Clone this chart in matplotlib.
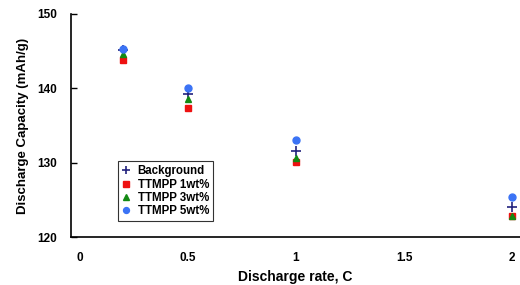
import matplotlib
matplotlib.use("Agg")
import matplotlib.pyplot as plt

plt.rcParams['font.family'] = ['Liberation Sans', 'DejaVu Sans']
plt.rcParams['font.weight'] = 'bold'

# discharge rates (C) and capacities (mAh/g)
rates = [0.2, 0.5, 1, 2]
background = [145.2, 139.2, 131.6, 124.0]
ttmpp_1 = [143.8, 137.4, 130.1, 122.8]
ttmpp_3 = [144.6, 138.6, 130.6, 122.8]
ttmpp_5 = [145.3, 140.1, 133.0, 125.4]

xticks = [0, 0.5, 1, 1.5, 2]
xticklabels = ["0", "0.5", "1", "1.5", "2"]
yticks = [120, 130, 140, 150]

fig = plt.figure(figsize=(5.2, 2.85), dpi=100)
ax = fig.add_axes([0.1365, 0.1684, 0.8635, 0.7825])

ax.plot(rates, background, linestyle='none', marker='+', color='#23237e',
        markersize=7, markeredgewidth=1.2, label='Background')
ax.plot(rates, ttmpp_1, linestyle='none', marker='s', color='#ee1111',
        markersize=4.5, label='TTMPP 1wt%')
ax.plot(rates, ttmpp_3, linestyle='none', marker='^', color='#138a13',
        markersize=5, label='TTMPP 3wt%')
ax.plot(rates, ttmpp_5, linestyle='none', marker='o', color='#3b73f5',
        markersize=5, label='TTMPP 5wt%')

ax.set_xlim(-0.042, 2.037)
ax.set_ylim(120, 150)
ax.set_xticks(xticks)
ax.set_xticklabels(xticklabels)
ax.set_yticks(yticks)

ax.spines['top'].set_visible(False)
ax.spines['right'].set_visible(False)
ax.spines['left'].set_linewidth(1.2)
ax.spines['bottom'].set_linewidth(1.2)
ax.tick_params(axis='x', length=0, pad=11, labelsize=8.5)
ax.tick_params(axis='y', direction='in', length=4, width=1, pad=10, labelsize=8.5)

ax.set_xlabel("Discharge rate, C", fontsize=10, fontweight='bold', labelpad=4)
ax.set_ylabel("Discharge Capacity (mAh/g)", fontsize=9.5, fontweight='bold', labelpad=6)

leg = ax.legend(loc='upper left', bbox_to_anchor=(0.105, 0.34), borderaxespad=0,
                fontsize=8.3, frameon=True, fancybox=False, handlelength=0.6,
                handletextpad=0.75, labelspacing=0.12, borderpad=0.35,
                markerscale=0.85)
leg.get_frame().set_edgecolor('black')
leg.get_frame().set_linewidth(0.8)

fig.savefig("out.png", dpi=100)
